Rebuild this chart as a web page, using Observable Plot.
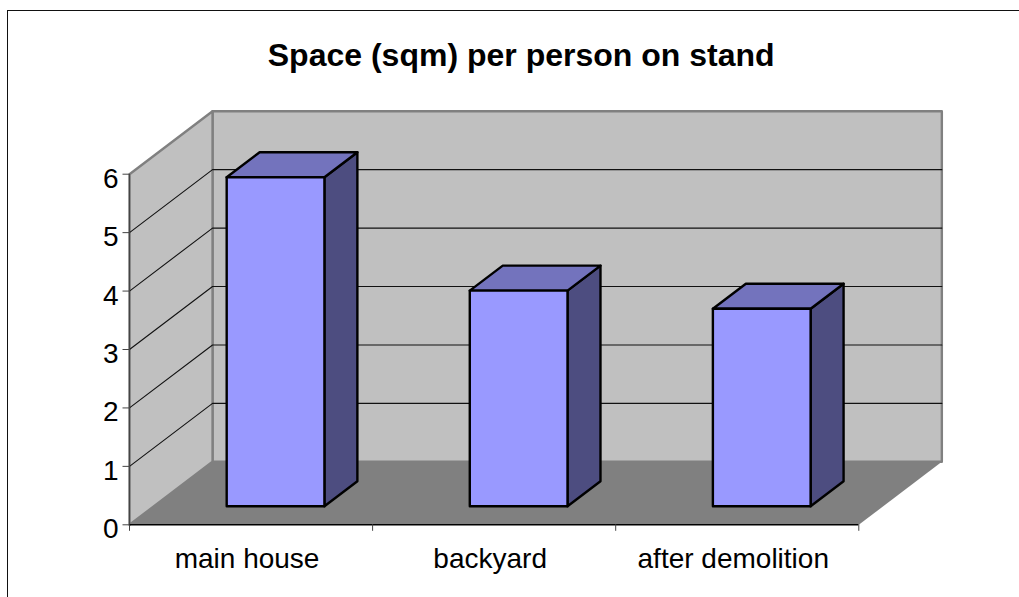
<!DOCTYPE html>
<html>
<head>
<meta charset="utf-8">
<script src="https://cdn.jsdelivr.net/npm/d3@7"></script>
<script src="https://cdn.jsdelivr.net/npm/@observablehq/plot@0.6"></script>
<style>
html,body{margin:0;padding:0;background:#fff;overflow:hidden}
#frame{position:absolute;left:7px;top:10px;width:1012px;height:587px;border-left:1.5px solid #111;border-top:1.5px solid #111;box-sizing:border-box;pointer-events:none;z-index:2}
</style>
</head>
<body>
<div id="frame"></div>
<div id="chart"></div>
<script>
const chartTitle = "Space (sqm) per person on stand";
const categories = ["main house", "backyard", "after demolition"];
const values = [5.63, 3.69, 3.38];
const yTicks = [0, 1, 2, 3, 4, 5, 6];
const gridValues = [1, 2, 3, 4, 5];
const xTicks = [0, 1, 2, 3];

// oblique projection of the chart's depth axis, in data units
const depthX = 0.3416, depthY = 1.078;
const project = (x, y, d) => ({x: x + d * depthX, y: y + d * depthY});
const poly = (pts) => { const p = pts.map(([x, y, d]) => project(x, y, d)); return [...p, p[0]]; };
const barW = 0.402, d0 = 0.295, d1 = 0.692;

const frontFaces = [], topFaces = [], sideFaces = [];
values.forEach((v, i) => {
  const a = i + 0.5 - barW / 2, b = i + 0.5 + barW / 2;
  frontFaces.push(...poly([[a,0,d0],[b,0,d0],[b,v,d0],[a,v,d0]]).map(p => ({...p, i})));
  topFaces.push(...poly([[a,v,d0],[b,v,d0],[b,v,d1],[a,v,d1]]).map(p => ({...p, i})));
  sideFaces.push(...poly([[b,0,d0],[b,0,d1],[b,v,d1],[b,v,d0]]).map(p => ({...p, i})));
});
const grid = gridValues.flatMap(v => [project(0,v,0), project(0,v,1), project(3,v,1)].map(p => ({...p, v})));
const line = (data, o) => Plot.line(data, {x: "x", y: "y", ...o});
const barStyle = {z: "i", stroke: "#000", strokeWidth: 2.4, strokeLinejoin: "round"};

const plot = Plot.plot({
  width: 1019, height: 597,
  marginLeft: 129, marginRight: 160.7, marginTop: 173.7, marginBottom: 72.7,
  x: {type: "linear", domain: [0, 3]},
  y: {type: "linear", domain: [0, 6]},
  style: {fontFamily: "'Liberation Sans', Arial, sans-serif", color: "#000", background: "transparent"},
  marks: [
    line(poly([[0,0,1],[3,0,1],[3,6,1],[0,6,1]]), {fill: "#c0c0c0", stroke: "#808080", strokeWidth: 2.4}),
    line(poly([[0,0,0],[0,0,1],[0,6,1],[0,6,0]]), {fill: "#c0c0c0", stroke: "#808080", strokeWidth: 2.4}),
    line(poly([[0,0,0],[3,0,0],[3,0,1],[0,0,1]]), {fill: "#808080", stroke: "none"}),
    line(grid, {z: "v", stroke: "#111", strokeWidth: 1.1}),
    Plot.ruleX([0], {y1: 0, y2: 6, stroke: "#444", strokeWidth: 1.2}),
    Plot.ruleY([0], {x1: 0, x2: 3, stroke: "#000", strokeWidth: 1.5}),
    Plot.axisY({ticks: yTicks, tickSize: 6.5, tickFormat: () => "", label: null, stroke: "#444", anchor: "left"}),
    Plot.axisY({ticks: yTicks, tickSize: 0, tickPadding: 11, fontSize: 28, dy: 4.5, label: null, tickFormat: d => d, anchor: "left"}),
    Plot.axisX({ticks: xTicks, tickSize: 6.5, tickFormat: () => "", label: null, stroke: "#444", anchor: "bottom"}),
    Plot.axisX({ticks: [0.5, 1.5, 2.5], tickSize: 0, tickPadding: 23, fontSize: 28, dx: -4, label: null, anchor: "bottom", tickFormat: d => categories[Math.floor(d)]}),
    line(sideFaces, {...barStyle, fill: "#4d4d80"}),
    line(topFaces, {...barStyle, fill: "#7373bd"}),
    line(frontFaces, {...barStyle, fill: "#9999ff"}),
    Plot.text([chartTitle], {frameAnchor: "top", dx: 27, dy: -130.5, fontSize: 32, fontWeight: "bold", fill: "#000"})
  ]
});
document.getElementById("chart").appendChild(plot);
</script>
</body>
</html>
